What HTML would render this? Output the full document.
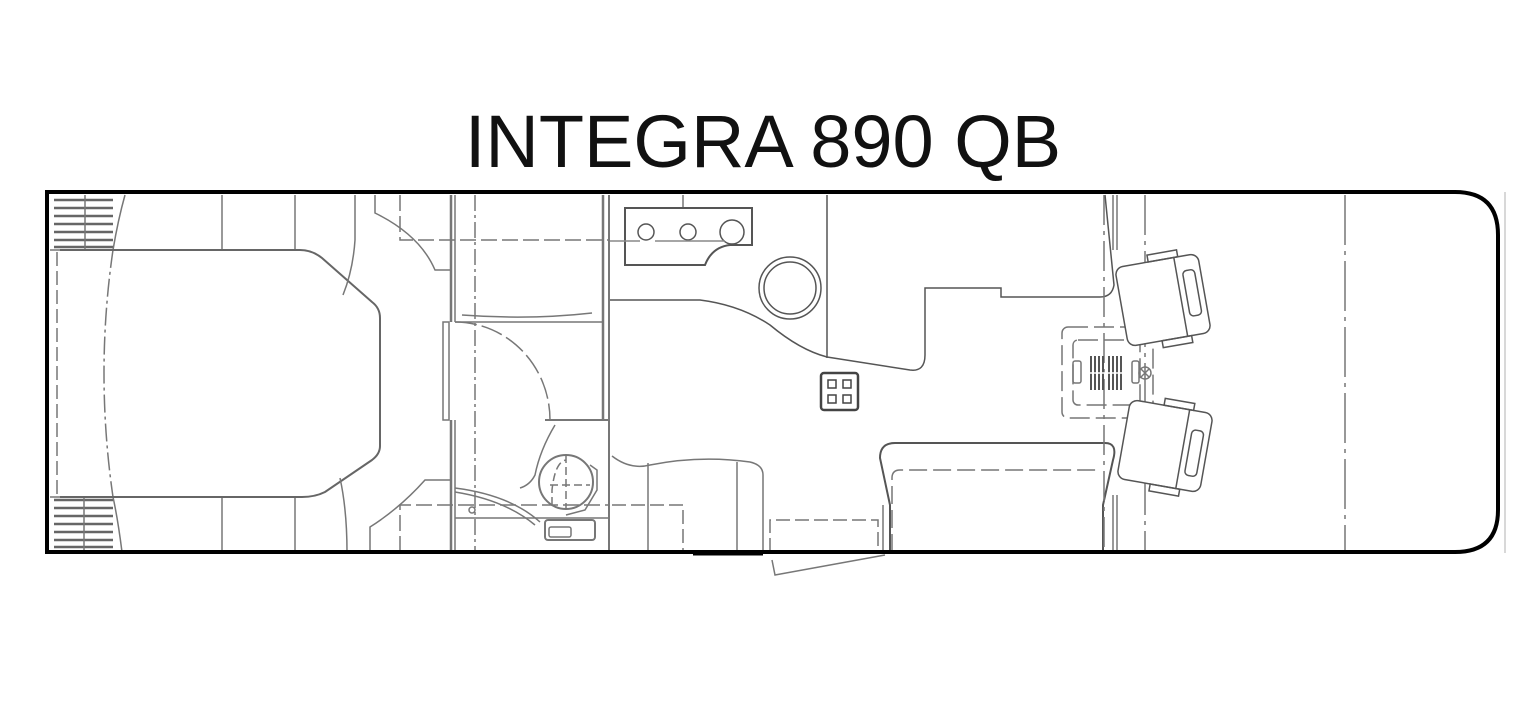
<!DOCTYPE html>
<html><head><meta charset="utf-8"><style>
html,body{margin:0;padding:0;background:#fff;}
svg{display:block;}
</style></head><body>
<svg width="1534" height="716" viewBox="0 0 1534 716" xmlns="http://www.w3.org/2000/svg">
<text x="763" y="167" text-anchor="middle" font-family="Liberation Sans, sans-serif" font-size="74" fill="#111">INTEGRA 890 QB</text>
<g fill="none" stroke="#777" stroke-width="1.5">
<!-- ladders -->
<g stroke="#666" stroke-width="2.5">
<line x1="54" y1="200" x2="113" y2="200"/><line x1="54" y1="208" x2="113" y2="208"/><line x1="54" y1="216" x2="113" y2="216"/><line x1="54" y1="224" x2="113" y2="224"/><line x1="54" y1="232" x2="113" y2="232"/><line x1="54" y1="240" x2="113" y2="240"/><line x1="54" y1="247" x2="113" y2="247"/>
<line x1="54" y1="500" x2="113" y2="500"/><line x1="54" y1="508" x2="113" y2="508"/><line x1="54" y1="516" x2="113" y2="516"/><line x1="54" y1="524" x2="113" y2="524"/><line x1="54" y1="532" x2="113" y2="532"/><line x1="54" y1="540" x2="113" y2="540"/><line x1="54" y1="547" x2="113" y2="547"/>
</g>
<line x1="85" y1="195" x2="85" y2="250"/><line x1="84" y1="497" x2="84" y2="552"/>
<line x1="50" y1="250" x2="300" y2="250"/><line x1="50" y1="497" x2="300" y2="497"/>
<path d="M125,195 Q118,220 113,250"/><path d="M113,497 Q118,520 122,552"/>
<path d="M113,250 Q95,373 113,497" stroke-dasharray="18,4,3,4"/>
<line x1="57" y1="252" x2="57" y2="495" stroke-dasharray="14,5"/>
<line x1="222" y1="195" x2="222" y2="250"/><line x1="295" y1="195" x2="295" y2="250"/>
<line x1="222" y1="497" x2="222" y2="552"/><line x1="295" y1="497" x2="295" y2="552"/>
<!-- bed -->
<path stroke="#666" stroke-width="2" d="M60,250 H300 Q312,250 322,258 L372,302 Q380,308 380,318 V446 Q380,454 372,460 L325,492 Q315,497 302,497 H60"/>
<path d="M355,195 V240 Q353,270 343,295"/><path d="M340,478 Q347,510 347,552"/>
<!-- wardrobe -->
<path d="M375,195 V213 Q420,235 435,270 H452"/>
<path d="M400,195 V240 H610" stroke-dasharray="16,5"/>
<path d="M370,552 V527 Q400,508 425,480 H452"/>
<path d="M400,552 V505 H610" stroke-dasharray="16,5"/>
<line x1="451" y1="195" x2="451" y2="322" stroke-width="2.5"/><line x1="451" y1="420" x2="451" y2="552" stroke-width="2.5"/>
<line x1="455" y1="195" x2="455" y2="322"/><line x1="455" y1="420" x2="455" y2="552"/>
<line x1="475" y1="195" x2="475" y2="552" stroke-dasharray="16,4,3,4"/>
<rect x="443" y="322" width="6" height="98"/>
<line x1="455" y1="322" x2="603" y2="322"/>
<path d="M462,315 Q530,320 592,313"/>
<path d="M455,322 A95,98 0 0 1 550,420" stroke-dasharray="22,5"/>
<line x1="603" y1="195" x2="603" y2="420" stroke-width="2.5"/><line x1="609" y1="195" x2="609" y2="552" stroke-width="2"/>
<line x1="545" y1="420" x2="609" y2="420" stroke-width="2"/>
<line x1="455" y1="518" x2="609" y2="518"/>
<path d="M455,488 Q510,495 540,522"/><path d="M455,492 Q505,500 535,525"/>
<circle cx="472" cy="510" r="3"/>
<path d="M555,425 Q540,450 535,475 Q530,485 520,488"/>
<circle cx="566" cy="482" r="27" stroke-width="2"/>
<path d="M552,505 V490 Q555,462 566,460 M566,455 V510 M550,485 H590" stroke-dasharray="8,4"/>
<path d="M590,465 L597,470 V490 L585,510 L566,515"/>
<rect x="545" y="520" width="50" height="20" rx="3" stroke-width="2"/>
<rect x="549" y="527" width="22" height="10" rx="2"/>
<!-- kitchen -->
<line x1="683" y1="195" x2="683" y2="208"/>
<path stroke="#555" stroke-width="2" d="M625,208 H752 V245 H730 Q712,247 705,265 H625 Z"/>
<circle cx="646" cy="232" r="8" stroke="#555"/><circle cx="688" cy="232" r="8" stroke="#555"/><circle cx="732" cy="232" r="12" stroke="#555"/>
<path d="M610,241 H640 M655,241 H725" stroke="#888"/>
<circle cx="790" cy="288" r="31" stroke="#555"/><circle cx="790" cy="288" r="26" stroke="#555"/>
<line x1="827" y1="195" x2="827" y2="358" stroke="#555"/>
<path stroke="#555" d="M610,300 H700 Q740,305 770,325 Q800,350 827,357 L910,370 Q925,372 925,355 V288 H1001 V297 H1100 Q1112,297 1114,285 L1105,195"/>
<rect x="821" y="373" width="37" height="37" rx="3" stroke="#444" stroke-width="2.5"/>
<rect x="828" y="380" width="8" height="8" stroke="#444"/><rect x="843" y="380" width="8" height="8" stroke="#444"/><rect x="828" y="395" width="8" height="8" stroke="#444"/><rect x="843" y="395" width="8" height="8" stroke="#444"/>
<!-- dinette -->
<path stroke="#555" stroke-width="2" d="M890,552 V505 L880,458 Q880,443 895,443 H1105 Q1118,443 1113,460 L1103,505 V552"/>
<path d="M892,552 V478 Q892,470 900,470 H1100" stroke-dasharray="18,6"/>
<path d="M612,456 Q630,470 650,465 Q700,455 750,462 Q763,465 763,475 V552"/>
<line x1="648" y1="463" x2="648" y2="552"/><line x1="737" y1="462" x2="737" y2="552"/>
<path d="M612,505 H683 V552" stroke-dasharray="14,5"/>
<path d="M770,552 V520 H878 V552" stroke-dasharray="14,5"/>
<path d="M772,560 L775,575 L885,555" />
<line x1="883" y1="505" x2="883" y2="552"/>
<!-- cab -->
<line x1="1113" y1="195" x2="1113" y2="250"/><line x1="1117" y1="195" x2="1117" y2="250"/>
<line x1="1113" y1="495" x2="1113" y2="552"/><line x1="1117" y1="495" x2="1117" y2="552"/>
<line x1="1104" y1="195" x2="1104" y2="552" stroke-dasharray="30,6,4,6"/>
<line x1="1145" y1="195" x2="1145" y2="552" stroke-dasharray="40,6,4,6"/>
<line x1="1345" y1="195" x2="1345" y2="552" stroke-dasharray="50,6,4,6"/>
<rect x="1062" y="327" width="91" height="91" rx="6" stroke-dasharray="20,6"/>
<rect x="1073" y="340" width="67" height="65" rx="5" stroke-dasharray="20,6"/>
<rect x="1073" y="361" width="8" height="22" rx="2"/><rect x="1132" y="361" width="7" height="22" rx="2"/>
<g stroke="#555" stroke-width="2">
<line x1="1091" y1="356" x2="1091" y2="390"/><line x1="1095" y1="356" x2="1095" y2="390"/><line x1="1099" y1="356" x2="1099" y2="390"/><line x1="1103" y1="356" x2="1103" y2="390"/><line x1="1109" y1="356" x2="1109" y2="390"/><line x1="1113" y1="356" x2="1113" y2="390"/><line x1="1117" y1="356" x2="1117" y2="390"/><line x1="1121" y1="356" x2="1121" y2="390"/>
</g>
<line x1="1089" y1="373" x2="1124" y2="373" stroke="#fff"/>
<circle cx="1145" cy="373" r="6"/><path d="M1141,369 L1149,377 M1149,369 L1141,377"/>
<g transform="translate(1163,300) rotate(-10)" stroke="#555">
<rect x="-42" y="-40" width="84" height="80" rx="8" fill="#fff"/>
<line x1="18" y1="-40" x2="18" y2="40"/>
<rect x="24" y="-25" width="12" height="46" rx="4"/>
<rect x="-8" y="-47" width="30" height="7"/><rect x="-8" y="40" width="30" height="7"/>
</g>
<g transform="translate(1165,446) rotate(10)" stroke="#555">
<rect x="-42" y="-40" width="84" height="80" rx="8" fill="#fff"/>
<line x1="18" y1="-40" x2="18" y2="40"/>
<rect x="24" y="-21" width="12" height="46" rx="4"/>
<rect x="-8" y="-47" width="30" height="7"/><rect x="-8" y="40" width="30" height="7"/>
</g>
<line x1="1505" y1="192" x2="1505" y2="553" stroke="#ccc"/>
</g>
<!-- outer -->
<path d="M47,192 H1455 Q1498,192 1498,235 V510 Q1498,552 1455,552 H47 Z" fill="none" stroke="#000" stroke-width="4"/>
<line x1="693" y1="554" x2="763" y2="554" stroke="#000" stroke-width="3"/>
</svg>
</body></html>
